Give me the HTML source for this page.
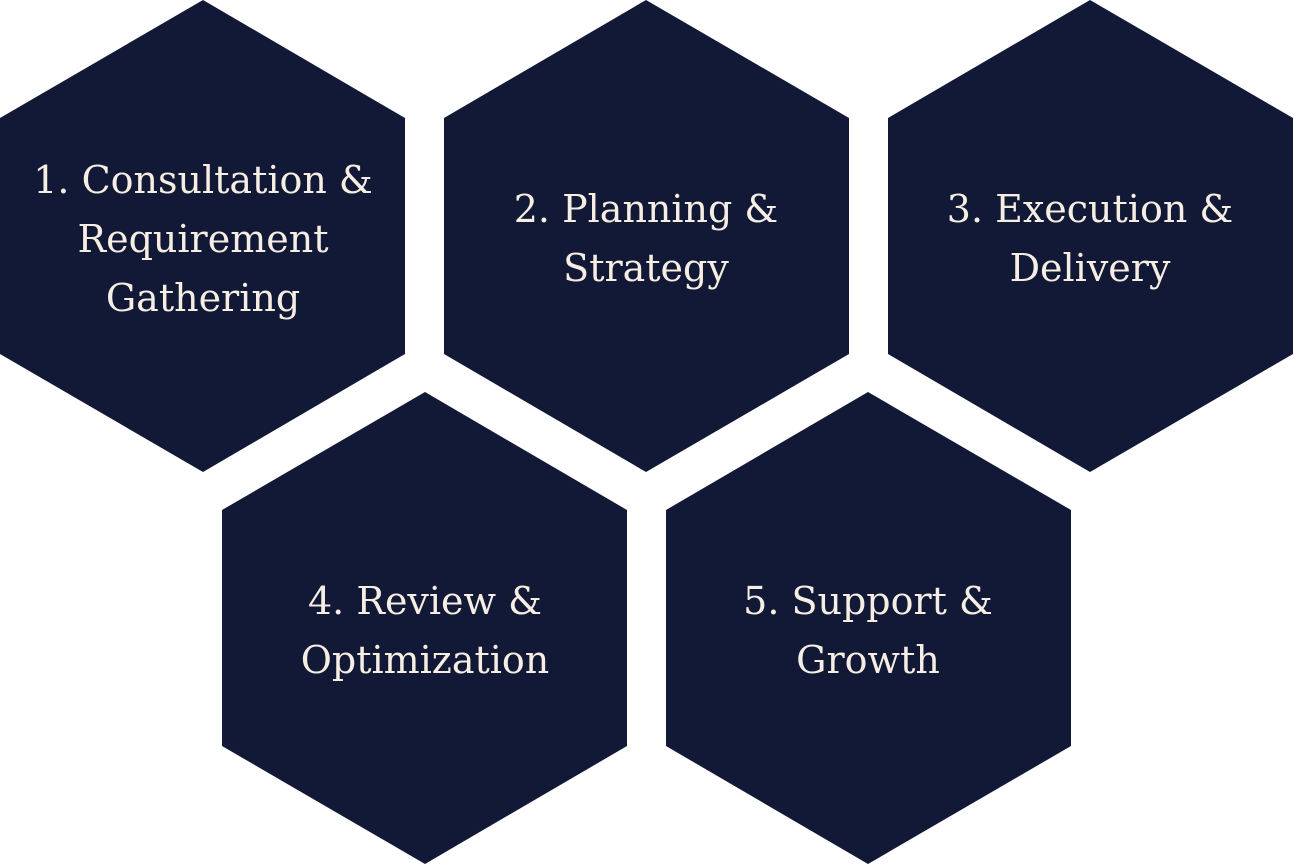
<!DOCTYPE html>
<html><head><meta charset="utf-8"><style>
html,body{margin:0;padding:0;background:#fff;}
svg{display:block}
text{font-family:"DejaVu Serif","Liberation Serif",serif;font-size:38px;fill:#f6ede3;text-anchor:middle;}
</style></head><body>
<svg width="1294" height="864" viewBox="0 0 1294 864">
<g fill="#121936">
<polygon points="203,0 405,118 405,354 203,472 0,354 0,118"/>
<polygon points="646,0 849,118 849,354 646,472 444,354 444,118"/>
<polygon points="1090,0 1293,118 1293,354 1090,472 888,354 888,118"/>
<polygon points="425,392 627,510 627,746 425,864 222,746 222,510"/>
<polygon points="868,392 1071,510 1071,746 868,864 666,746 666,510"/>
</g>
<text x="203" y="193">1. Consultation &amp;</text>
<text x="203" y="252">Requirement</text>
<text x="203" y="311">Gathering</text>
<text x="646" y="222">2. Planning &amp;</text>
<text x="646" y="281">Strategy</text>
<text x="1090" y="222">3. Execution &amp;</text>
<text x="1090" y="281">Delivery</text>
<text x="425" y="614">4. Review &amp;</text>
<text x="425" y="673">Optimization</text>
<text x="868" y="614">5. Support &amp;</text>
<text x="868" y="673">Growth</text>
</svg>
</body></html>
